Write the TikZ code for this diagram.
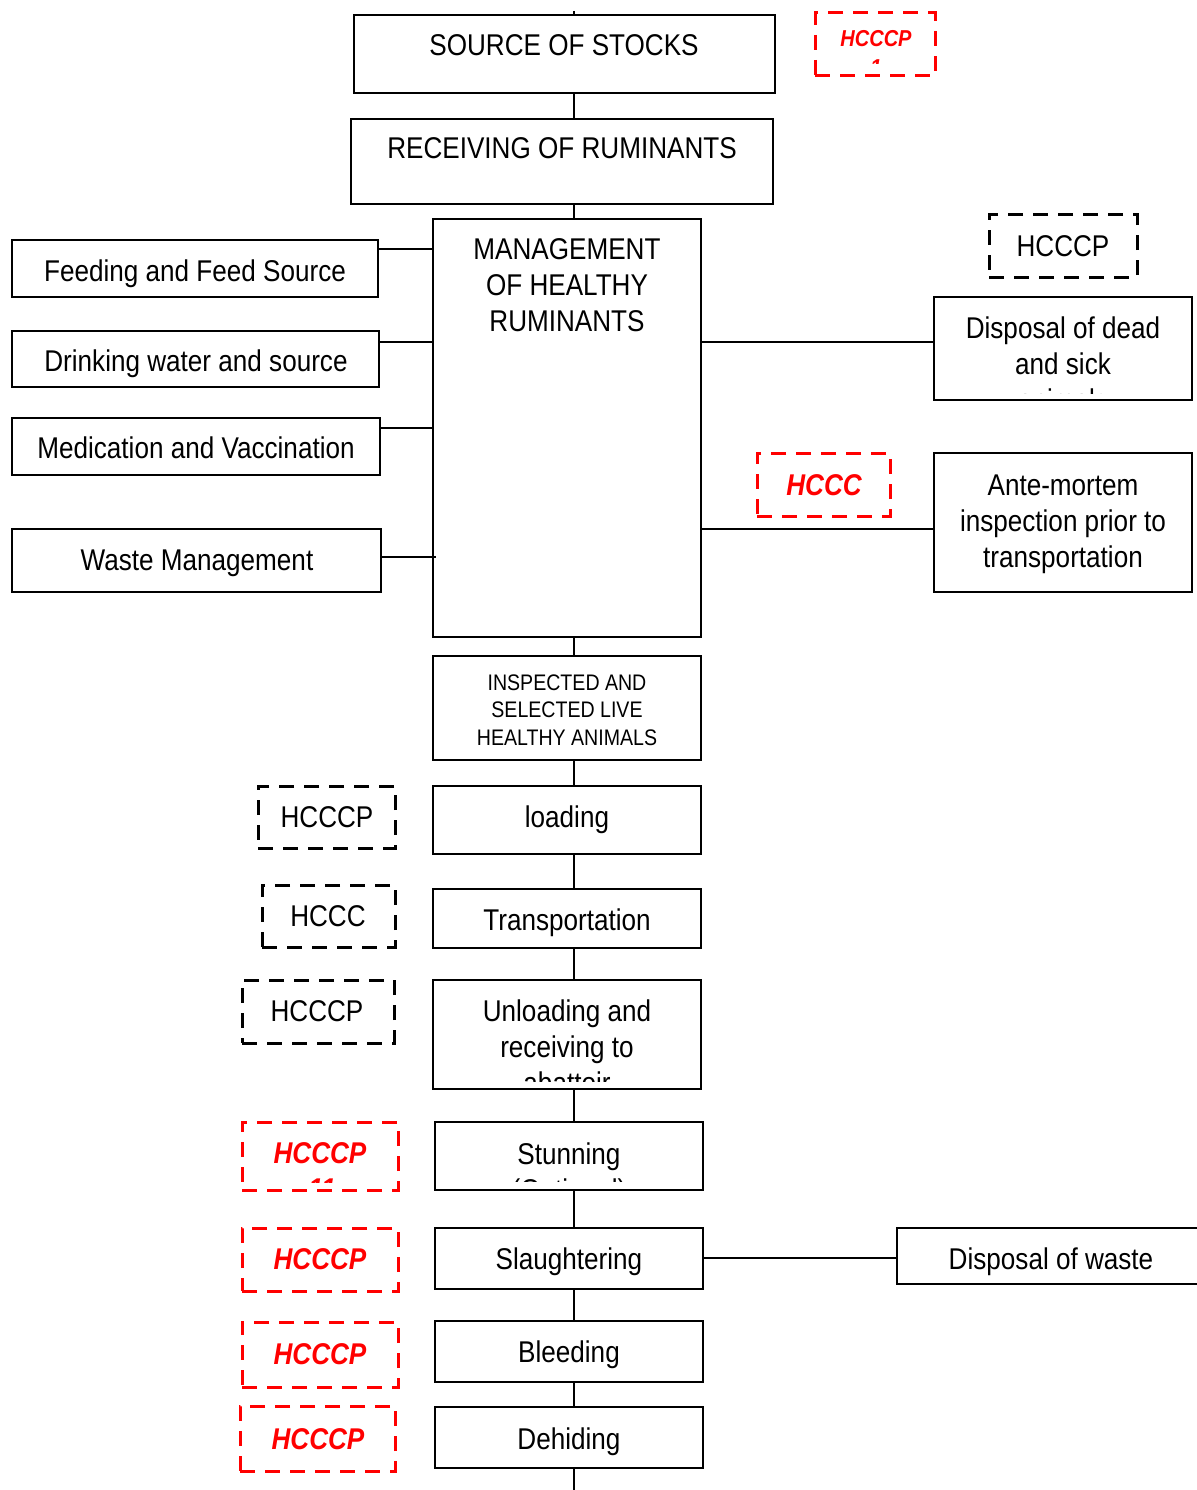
\documentclass[tikz,border=0pt]{standalone}
\usepackage{fontspec}
\setmainfont{Liberation Sans}[FakeStretch=0.87]
\usetikzlibrary{fit}
\begin{document}
\begin{tikzpicture}[x=1pt,y=-1pt,
  box/.style={draw=black, line width=1.8pt, inner sep=0pt},
  bdash/.style={draw=black, line width=3pt, dash pattern=on 15pt off 10pt, inner sep=0pt},
  rdash/.style={draw=red, line width=3pt, dash pattern=on 15pt off 10pt, inner sep=0pt},
  conn/.style={draw=black, line width=1.8pt},
  t/.style={anchor=base, inner sep=0pt, font=\fontsize{30}{36}\selectfont},
  ts/.style={anchor=base, inner sep=0pt, font=\fontsize{22.5}{27}\selectfont},
  tr/.style={anchor=base, inner sep=0pt, text=red, font=\fontsize{30}{36}\selectfont\bfseries\itshape},
  trs/.style={anchor=base, inner sep=0pt, text=red, font=\fontsize{23}{28}\selectfont\bfseries\itshape}
]
\useasboundingbox (0,0) rectangle (1196,1490);
\fill[white] (0,0) rectangle (1196,1490);

% spine coordinates
\coordinate (top) at (574,11);
\coordinate (bot) at (574,1492);

% main column boxes
\node[box, fit={(354,15) (775,93)}] (src) {};
\node[box, fit={(351,119) (773,204)}] (recv) {};
\node[box, fit={(433,219) (701,637)}] (mgmt) {};
\node[box, fit={(433,656) (701,760)}] (insp) {};
\node[box, fit={(433,786) (701,854)}] (load) {};
\node[box, fit={(433,889) (701,948)}] (trans) {};
\node[box, fit={(433,980) (701,1089)}] (unld) {};
\node[box, fit={(435,1122) (703,1190)}] (stun) {};
\node[box, fit={(435,1228) (703,1289)}] (slau) {};
\node[box, fit={(435,1321) (703,1382)}] (bleed) {};
\node[box, fit={(435,1407) (703,1468)}] (dehide) {};

% left boxes
\node[box, fit={(12,240) (378,297)}] (feed) {};
\node[box, fit={(12,331) (379,387)}] (drink) {};
\node[box, fit={(12,418) (380,475)}] (med) {};
\node[box, fit={(12,529) (381,592)}] (waste) {};

% right boxes
\node[box, fit={(934,297) (1192,400)}] (dead) {};
\node[box, fit={(934,453) (1192,592)}] (ante) {};
\node[box, fit={(897,1228) (1215,1284)}] (wdisp) {};

% dashed HCCP boxes
\node[rdash, fit={(815,13) (935,76)}] (h0) {};
\node[bdash, fit={(989,214) (1137,277)}] (h1) {};
\node[rdash, fit={(757,453) (890,516)}] (h2) {};
\node[bdash, fit={(258,786) (395,848)}] (h3) {};
\node[bdash, fit={(262,885) (395,947)}] (h4) {};
\node[bdash, fit={(242,980) (394,1043)}] (h5) {};
\node[rdash, fit={(242,1122) (398,1190)}] (h6) {};
\node[rdash, fit={(242,1228) (398,1291)}] (h7) {};
\node[rdash, fit={(242,1322) (398,1387)}] (h8) {};
\node[rdash, fit={(240,1406) (395,1471)}] (h9) {};

% spine connectors
\draw[conn] (top) -- (src.north -| top);
\draw[conn] (src.south -| top) -- (recv.north -| top);
\draw[conn] (recv.south -| top) -- (mgmt.north -| top);
\draw[conn] (mgmt.south -| top) -- (insp.north -| top);
\draw[conn] (insp.south -| top) -- (load.north -| top);
\draw[conn] (load.south -| top) -- (trans.north -| top);
\draw[conn] (trans.south -| top) -- (unld.north -| top);
\draw[conn] (unld.south -| top) -- (stun.north -| top);
\draw[conn] (stun.south -| top) -- (slau.north -| top);
\draw[conn] (slau.south -| top) -- (bleed.north -| top);
\draw[conn] (bleed.south -| top) -- (dehide.north -| top);
\draw[conn] (dehide.south -| top) -- (bot);

% side connectors
\draw[conn] (feed.east |- 0,249) -- (mgmt.west |- 0,249);
\draw[conn] (drink.east |- 0,342) -- (mgmt.west |- 0,342);
\draw[conn] (med.east |- 0,428) -- (mgmt.west |- 0,428);
\draw[conn] (waste.east |- 0,557) -- (436,557);
\draw[conn] (mgmt.east |- 0,342) -- (dead.west |- 0,342);
\draw[conn] (mgmt.east |- 0,529) -- (ante.west |- 0,529);
\draw[conn] (slau.east |- 0,1258) -- (wdisp.west |- 0,1258);

% texts main column
\node[t] (srcT) at (564,56) {SOURCE OF STOCKS};
\node[t] (recvT) at (562,159) {RECEIVING OF RUMINANTS};
\node[t] (mgmtT1) at (567,259) {MANAGEMENT};
\node[t] (mgmtT2) at (567,295) {OF HEALTHY};
\node[t] (mgmtT3) at (567,331) {RUMINANTS};
\node[ts] (inspT1) at (567,690) {INSPECTED AND};
\node[ts] (inspT2) at (567,717) {SELECTED LIVE};
\node[ts] (inspT3) at (567,745) {HEALTHY ANIMALS};
\node[t] (loadT) at (567,827) {loading};
\node[t] (transT) at (567,930) {Transportation};
\node[t] (unldT1) at (567,1021) {Unloading and};
\node[t] (unldT2) at (567,1057) {receiving to};
\begin{scope}
  \clip (434,1040) rectangle (700,1081);
  \node[t] (unldT3) at (567,1093) {abattoir};
\end{scope}
\node[t] (stunT1) at (569,1164) {Stunning};
\begin{scope}
  \clip (436,1170) rectangle (702,1181);
  \node[t] (stunT2) at (569,1200) {(Optional)};
\end{scope}
\node[t] (slauT) at (569,1269) {Slaughtering};
\node[t] (bleedT) at (569,1362) {Bleeding};
\node[t] (dehideT) at (569,1449) {Dehiding};

% left texts
\node[t] (feedT) at (195,281) {Feeding and Feed Source};
\node[t] (drinkT) at (196,371) {Drinking water and source};
\node[t] (medT) at (196,458) {Medication and Vaccination};
\node[t] (wasteT) at (197,570) {Waste Management};

% right texts
\node[t] (deadT1) at (1063,338) {Disposal of dead};
\node[t] (deadT2) at (1063,374) {and sick};
\begin{scope}
  \clip (935,380) rectangle (1191,393);
  \node[t] (deadT3) at (1063,410) {animals};
\end{scope}
\node[t] (anteT1) at (1063,495) {Ante-mortem};
\node[t] (anteT2) at (1063,531) {inspection prior to};
\node[t] (anteT3) at (1063,567) {transportation};
\node[t] (wdispT) at (1051,1269) {Disposal of waste};

% HCCP texts
\node[trs] (h0T) at (876,47) {HCCCP};
\begin{scope}
  \clip (817,50) rectangle (933,64);
  \node[trs] (h0T2) at (876,76) {1};
\end{scope}
\node[t] (h1T) at (1063,256) {HCCCP};
\node[tr] (h2T) at (824,495) {HCCC};
\node[t] (h3T) at (327,827) {HCCCP};
\node[t] (h4T) at (328,926) {HCCC};
\node[t] (h5T) at (317,1021) {HCCCP};
\node[tr] (h6T) at (320,1163) {HCCCP};
\begin{scope}
  \clip (244,1168) rectangle (396,1182);
  \node[tr] (h6T2) at (322,1199) {11};
\end{scope}
\node[tr] (h7T) at (320,1269) {HCCCP};
\node[tr] (h8T) at (320,1364) {HCCCP};
\node[tr] (h9T) at (318,1449) {HCCCP};
\end{tikzpicture}
\end{document}
